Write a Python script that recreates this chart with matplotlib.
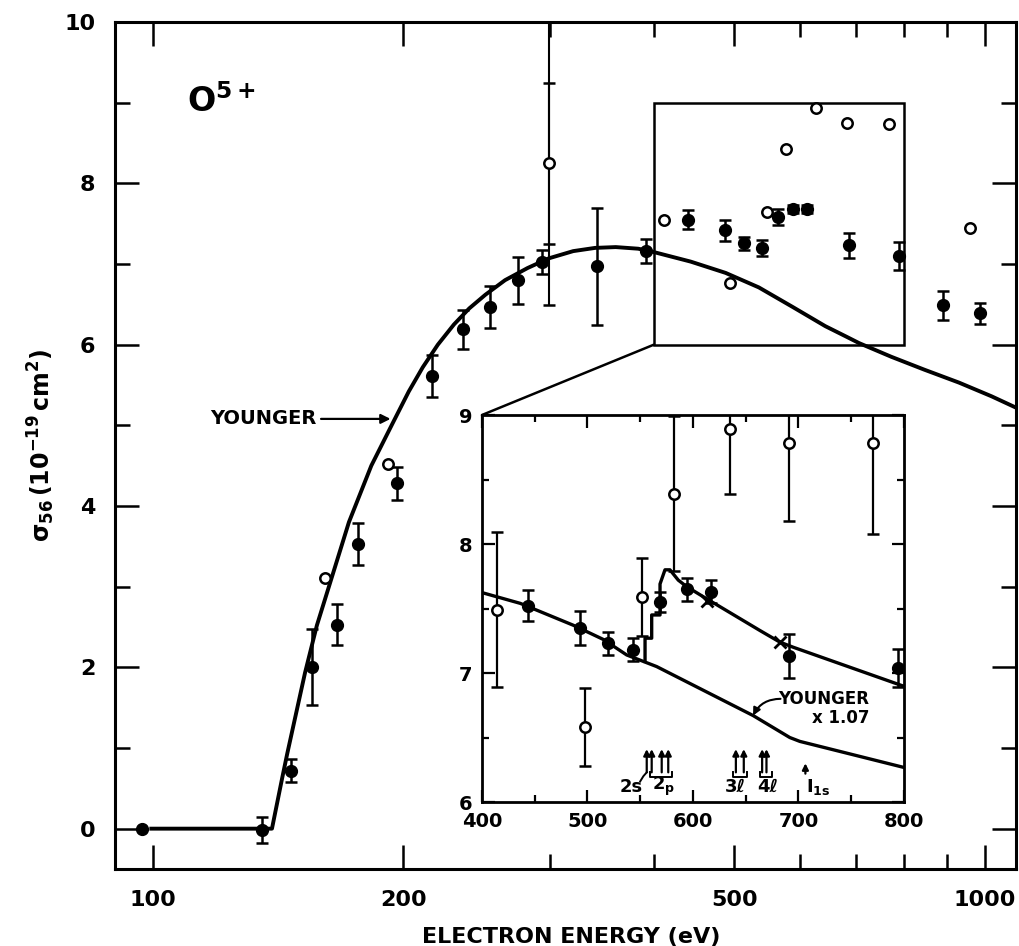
import numpy as np
import matplotlib
matplotlib.use('Agg')
import matplotlib.pyplot as plt
from matplotlib.patches import Rectangle, ConnectionPatch
from matplotlib.ticker import FixedLocator, NullFormatter, FixedFormatter

plt.rcParams['font.family'] = ['DejaVu Sans']
plt.rcParams['mathtext.fontset'] = 'dejavusans'

# YOUNGER 理論曲線 (主図)
youngerE = [99, 139, 143, 145, 152.3, 157.4, 165, 172, 183, 194, 203, 211, 220, 230, 240,
            251, 265, 282, 299, 320, 340, 360, 383, 396, 443, 488, 535, 587, 643, 681.5,
            706, 772, 846, 931, 1019, 1090]
youngerSig = [0.0, 0.0, 0.63, 0.93, 1.93, 2.52, 3.2, 3.80, 4.50, 5.02, 5.42, 5.72, 6.00, 6.25,
              6.45, 6.62, 6.80, 6.95, 7.07, 7.16, 7.20, 7.21, 7.19, 7.16, 7.03, 6.89, 6.71,
              6.47, 6.23, 6.10, 6.02, 5.85, 5.69, 5.53, 5.36, 5.22]

# 測定値 (黒丸)
mainE = [97, 135.2, 146.5, 155.2, 166.4, 176.3, 196.6, 216.2, 236, 254.5, 274.5, 293.5, 342,
         391.5, 439.5, 487, 513, 540, 564, 588, 612, 687, 789, 890, 986]
mainSig = [0.0, -0.02, 0.72, 2.0, 2.53, 3.53, 4.28, 5.61, 6.19, 6.47, 6.80, 7.03, 6.97,
           7.16, 7.55, 7.42, 7.26, 7.20, 7.58, 7.68, 7.68, 7.23, 7.10, 6.49, 6.39]
mainErr = [0, 0.16, 0.14, 0.47, 0.25, 0.26, 0.20, 0.26, 0.24, 0.26, 0.29, 0.15, 0.72,
           0.15, 0.12, 0.13, 0.08, 0.10, 0.10, 0.05, 0.05, 0.16, 0.17, 0.18, 0.13]

# 測定値 (白丸)
openE = [161, 191.8, 411, 494, 547, 576, 627, 683, 768, 960]
openSig = [3.11, 4.52, 7.54, 6.76, 7.64, 8.43, 8.93, 8.75, 8.73, 7.45]
bigE = [299]
bigSig = [8.25]
bigErrIn = [1.0]
bigErrOut = [1.76]

# 拡大図のデータ
inFillE = [443.8, 493.4, 519.5, 543.2, 568.5, 594.3, 617.4, 691.5, 794]
inFillSig = [7.52, 7.35, 7.23, 7.18, 7.55, 7.65, 7.63, 7.13, 7.04]
inFillErr = [0.12, 0.13, 0.09, 0.09, 0.08, 0.09, 0.09, 0.17, 0.15]
inOpenE = [414.5, 498.1, 551.7, 581.7, 634.7, 690.6, 770.4]
inOpenSig = [7.49, 6.58, 7.59, 8.39, 8.89, 8.78, 8.78]
inOpenErr = [0.6, 0.3, 0.3, 0.6, 0.5, 0.6, 0.7]

# YOUNGER x 1.07
inYoungE = [401.5, 436.3, 486.7, 515.1, 537.2, 565.6, 657.1, 691.8, 701.3, 799]
inYoungSig = [7.62, 7.54, 7.37, 7.26, 7.14, 7.05, 6.67, 6.50, 6.47, 6.27]

# 共鳴を含む曲線
resE = [554.6, 554.6, 560.9, 560.9, 568.8, 568.8, 573.5, 578.2, 586.1, 594, 616.1, 622.4,
        663.4, 682.3, 695, 799]
resSig = [7.09, 7.27, 7.27, 7.45, 7.45, 7.69, 7.80, 7.80, 7.72, 7.67, 7.56, 7.53,
          7.33, 7.24, 7.20, 6.90]
crossE = [613, 682.3]
crossSig = [7.56, 7.24]

# しきい値の矢印
levelE = [556.2, 560.9, 570.4, 576.6, 640.7, 648.2, 665.6, 669.7]
ionE = 706.6
bracketE = [(559.3, 579.8), (637.6, 651.4), (663.4, 674.5)]
levelLabels = ['2s', '2$_{\\mathbf{p}}$', '3ℓ', '4ℓ', 'I$_{\\mathbf{1s}}$']
levelLabelE = [541, 572, 640, 670.5, 719]

mainXTicks = [100, 200, 500, 1000]
mainXMinor = [300, 400, 600, 700, 800, 900]
mainYTicks = [0, 2, 4, 6, 8, 10]
mainYMinor = [1, 3, 5, 7, 9]
inXTicks = [400, 500, 600, 700, 800]
inXMinor = [450, 550, 650, 750]
inYTicks = [6, 7, 8, 9]
inYMinor = [6.5, 7.5, 8.5]


def plotMain(ax):
    """主図の描画"""
    ax.plot(youngerE, youngerSig, 'k-', lw=2.8, solid_capstyle='butt', zorder=2)

    e = np.array(mainE)
    s = np.array(mainSig)
    err = np.array(mainErr)
    hasErr = err > 0
    ax.errorbar(e[hasErr], s[hasErr], yerr=err[hasErr], fmt='o', color='k', ms=8.5,
                elinewidth=1.8, capsize=4.5, capthick=1.8, zorder=3)
    ax.plot(e[~hasErr], s[~hasErr], 'ko', ms=8.5, zorder=3)

    ax.errorbar(bigE, bigSig, yerr=bigErrOut, fmt='none', ecolor='k', elinewidth=1.5,
                capsize=4.5, capthick=1.8, zorder=3)
    ax.errorbar(bigE, bigSig, yerr=bigErrIn, fmt='none', ecolor='k', elinewidth=1.5,
                capsize=4.5, capthick=1.8, zorder=3)
    ax.plot(bigE + openE, bigSig + openSig, 'o', ms=7.5, mfc='white', mec='k', mew=1.8,
            zorder=4)

    ax.text(109.9, 8.88, '$\\mathbf{O^{5+}}$', fontsize=24, va='baseline')
    ax.annotate('YOUNGER', xy=(193, 5.08), xytext=(157.4, 5.08), ha='right', va='center',
                fontsize=14, fontweight='bold',
                arrowprops=dict(arrowstyle='-|>', color='k', lw=1.6, mutation_scale=14,
                                shrinkA=1, shrinkB=0))

    # 拡大範囲の枠
    ax.add_patch(Rectangle((400, 6), 400, 3, fill=False, ec='k', lw=1.8, zorder=2))


def plotInset(axIn):
    """拡大図の描画"""
    axIn.plot(inYoungE, inYoungSig, 'k-', lw=2.4, zorder=2)
    axIn.plot(resE, resSig, 'k-', lw=2.4, zorder=2)
    axIn.plot(crossE, crossSig, 'kx', ms=8, mew=2.0, zorder=3)

    axIn.errorbar(inFillE, inFillSig, yerr=inFillErr, fmt='o', color='k', ms=8.5,
                  elinewidth=1.8, capsize=4.5, capthick=1.8, zorder=3)
    axIn.errorbar(inOpenE, inOpenSig, yerr=inOpenErr, fmt='o', ms=7.5, mfc='white', mec='k',
                  mew=1.8, ecolor='k', elinewidth=1.6, capsize=4.5, capthick=1.8, zorder=4)

    axIn.text(767, 6.725, 'YOUNGER\nx 1.07', ha='right', va='center', fontsize=12,
              fontweight='bold', multialignment='right', linespacing=1.1)
    axIn.annotate('', xy=(657, 6.67), xytext=(683, 6.80),
                  arrowprops=dict(arrowstyle='-|>', connectionstyle='arc3,rad=0.3', lw=1.5,
                                  color='k', mutation_scale=11, shrinkA=0, shrinkB=0))

    for lv in levelE:
        axIn.annotate('', xy=(lv, 6.41), xytext=(lv, 6.23),
                      arrowprops=dict(arrowstyle='-|>', lw=1.6, color='k', mutation_scale=9,
                                      shrinkA=0, shrinkB=0))
    axIn.annotate('', xy=(ionE, 6.30), xytext=(ionE, 6.22),
                  arrowprops=dict(arrowstyle='-|>', lw=1.6, color='k', mutation_scale=9,
                                  shrinkA=0, shrinkB=0))
    for e0, e1 in bracketE:
        axIn.plot([e0, e0, e1, e1], [6.23, 6.195, 6.195, 6.23], 'k-', lw=1.4)
    axIn.plot([550, 553, 556.2], [6.16, 6.2, 6.23], 'k-', lw=1.4)

    for lbl, le in zip(levelLabels, levelLabelE):
        axIn.text(le, 6.12, lbl, ha='center', va='center', fontsize=13, fontweight='bold')


def setStyle(ax, axIn):
    """軸の見た目設定"""
    ax.set_xscale('log')
    ax.set_xlim(90, 1090)
    ax.set_ylim(-0.5, 10)
    ax.xaxis.set_major_locator(FixedLocator(mainXTicks))
    ax.xaxis.set_major_formatter(FixedFormatter([str(t) for t in mainXTicks]))
    ax.xaxis.set_minor_locator(FixedLocator(mainXMinor))
    ax.xaxis.set_minor_formatter(NullFormatter())
    ax.yaxis.set_major_locator(FixedLocator(mainYTicks))
    ax.yaxis.set_minor_locator(FixedLocator(mainYMinor))
    ax.tick_params(which='both', direction='in', top=True, right=True, width=1.8,
                   labelsize=16)
    ax.tick_params(axis='x', which='major', length=17, pad=15)
    ax.tick_params(axis='y', which='major', length=17, pad=14)
    ax.tick_params(which='minor', length=11)
    for lbl in ax.get_xticklabels() + ax.get_yticklabels():
        lbl.set_fontweight('bold')
    for sp in ax.spines.values():
        sp.set_linewidth(2.2)
    ax.set_xlabel('ELECTRON ENERGY (eV)', fontsize=16, fontweight='bold')
    ax.xaxis.set_label_coords(0.506, -0.068)
    ax.set_ylabel('$\\mathbf{\\sigma_{56}\\,(10^{-19}\\,cm^2)}$', fontsize=17)
    ax.yaxis.set_label_coords(-0.064, 0.5)

    axIn.set_xlim(400, 800)
    axIn.set_ylim(6, 9)
    axIn.xaxis.set_major_locator(FixedLocator(inXTicks))
    axIn.xaxis.set_minor_locator(FixedLocator(inXMinor))
    axIn.yaxis.set_major_locator(FixedLocator(inYTicks))
    axIn.yaxis.set_minor_locator(FixedLocator(inYMinor))
    axIn.tick_params(which='both', direction='in', top=True, right=True, width=1.6,
                     labelsize=14, pad=7)
    axIn.tick_params(which='major', length=9)
    axIn.tick_params(which='minor', length=5)
    for lbl in axIn.get_xticklabels() + axIn.get_yticklabels():
        lbl.set_fontweight('bold')
    for sp in axIn.spines.values():
        sp.set_linewidth(2.0)


def main():
    fig = plt.figure(figsize=(10.2, 9.46), dpi=100)
    ax = fig.add_axes([0.1127, 0.0814, 0.8833, 0.8953])
    axIn = fig.add_axes([0.4725, 0.1522, 0.4137, 0.4091])
    axIn.set_facecolor('white')

    plotMain(ax)
    plotInset(axIn)
    setStyle(ax, axIn)

    # 枠と拡大図をつなぐ線
    con = ConnectionPatch(xyA=(400, 6), coordsA=ax.transData, xyB=(400, 9),
                          coordsB=axIn.transData, color='k', lw=1.8)
    fig.add_artist(con)

    fig.savefig('out.png', dpi=100)
    plt.close(fig)


if __name__ == '__main__':
    main()
